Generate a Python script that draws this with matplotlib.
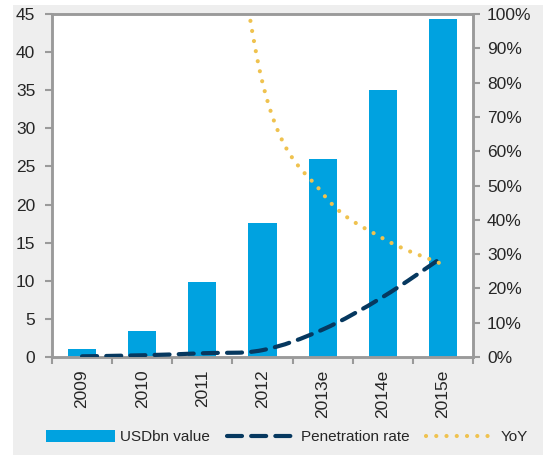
import numpy as np
import matplotlib.pyplot as plt
from matplotlib.path import Path
from matplotlib.patches import PathPatch, Patch, Rectangle
from matplotlib.lines import Line2D

plt.rcParams['font.family'] = ['Liberation Sans', 'DejaVu Sans']

years = ['2009', '2010', '2011', '2012', '2013e', '2014e', '2015e']
usd_bn = [1.05, 3.4, 9.8, 17.6, 26.0, 35.0, 44.4]
penetration = [0.002, 0.005, 0.011, 0.02, 0.08, 0.175, 0.292]
yoy_years = ['2010', '2011', '2012', '2013e', '2014e', '2015e']
yoy = [2.24, 1.88, 0.80, 0.477, 0.346, 0.27]

BLUE = '#00a2e0'
NAVY = '#06385f'
GOLD = '#efc24f'
SPINE = '#9a9a9a'
TXT = '#262626'


def smooth_path(xs, ys):
    # Bezier segments through the points, the way spreadsheet "smoothed lines" do it
    pts = np.column_stack([xs, ys]).astype(float)
    ext = np.vstack([pts[0], pts, pts[-1]])
    verts = [pts[0]]
    codes = [Path.MOVETO]
    for i in range(len(pts) - 1):
        p_prev, p0, p1, p_next = ext[i], ext[i + 1], ext[i + 2], ext[i + 3]
        c1 = p0 + (p1 - p_prev) / 6.0
        c2 = p1 - (p_next - p0) / 6.0
        verts += [c1, c2, p1]
        codes += [Path.CURVE4] * 3
    return Path(verts, codes)


fig = plt.figure(figsize=(5.5, 4.55), dpi=100, facecolor='white')
# grey backdrop behind the whole chart
fig.patches.append(Rectangle((13 / 550, 0), 530 / 550, 1 - 5 / 455,
                             transform=fig.transFigure, facecolor='#eeeeee',
                             edgecolor='none', zorder=-10))

ax = fig.add_axes([52 / 550, 1 - 357 / 455, 421 / 550, 343 / 455])
x = np.arange(len(years))
ax.bar(x, usd_bn, width=0.47, color=BLUE, zorder=2)
ax.set_xlim(-0.5, len(years) - 0.5)
ax.set_ylim(0, 45)
ax.set_yticks(np.arange(0, 46, 5))
ax.set_xticks(x)
ax.set_xticklabels(years, rotation=90, fontsize=12.5, color=TXT)
ax.set_xticks(np.arange(-0.5, len(years), 1), minor=True)
ax.tick_params(axis='x', which='major', length=0, pad=9)
ax.tick_params(axis='x', which='minor', length=5, color=SPINE, width=1.5, direction='out')
ax.tick_params(axis='y', length=5, color=SPINE, width=1.5, labelsize=12.5,
               labelcolor=TXT, pad=7)

ax2 = ax.twinx()
ax2.set_ylim(0, 1)
ax2.set_yticks(np.arange(0, 1.01, 0.1))
ax2.set_yticklabels([f'{int(round(v * 100))}%' for v in np.arange(0, 1.01, 0.1)])
ax2.tick_params(axis='y', length=5, color=SPINE, width=1.5, labelsize=12.5,
                labelcolor=TXT, pad=5)

for a in (ax, ax2):
    for s in a.spines.values():
        s.set_color(SPINE)
        s.set_linewidth(1.8)

pen_path = smooth_path(x, penetration)
ax2.add_patch(PathPatch(pen_path, fill=False, edgecolor=NAVY, lw=3.0,
                        linestyle=(0, (3.6, 2.2)), capstyle='round', zorder=3))

yoy_x = [years.index(y) for y in yoy_years]
yoy_path = smooth_path(yoy_x, yoy)
ax2.add_patch(PathPatch(yoy_path, fill=False, edgecolor=GOLD, lw=3.0,
                        linestyle=(0, (0.01, 2.45)), capstyle='round', zorder=3))

handles = [
    Patch(facecolor=BLUE, edgecolor='none'),
    Line2D([], [], color=NAVY, lw=3.0, linestyle=(0, (3.6, 2.2)), dash_capstyle='round'),
    Line2D([], [], color=GOLD, lw=3.0, linestyle=(0, (0.01, 2.45)), dash_capstyle='round'),
]
labels = ['USDbn value', 'Penetration rate', 'YoY']
fig.legend(handles, labels, loc='center', bbox_to_anchor=(287 / 550, 18 / 455), ncol=3,
           frameon=False, fontsize=11, handlelength=4.5, handleheight=0.9,
           columnspacing=1.1, handletextpad=0.35, labelcolor=TXT)

fig.savefig('out.png', dpi=100, facecolor=fig.get_facecolor())
